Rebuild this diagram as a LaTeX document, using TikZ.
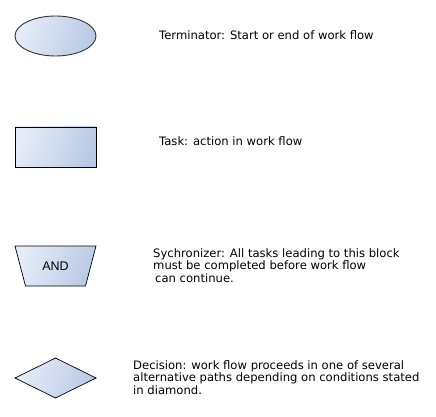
\documentclass[tikz,border=0pt]{standalone}
\usepackage{fontspec}
\setmainfont{DejaVu Sans}
\newfontfamily\andfont{Liberation Sans}
\definecolor{gl}{RGB}{230,236,247}
\definecolor{gd}{RGB}{184,202,229}
\tikzset{
  shapefill/.style={left color=gl, right color=gd, shading angle=70},
  desc/.style={anchor=base west, inner sep=0pt, align=left, font=\fontsize{11.6}{12.3}\selectfont},
}
\begin{document}
\begin{tikzpicture}[x=1pt,y=-1pt]
\useasboundingbox (0,0) rectangle (436,417);
% terminator
\draw[shapefill, draw=black!80, line width=0.9pt] (55.5,36) ellipse (40.5 and 20);
\node[inner sep=0pt] (term) at (55.5,36) {};
\node[desc] (termtxt) at (159,40) {Terminator: Start or end of work flow};
% task
\draw[shapefill, draw=black, line width=0.9pt] (15,127) rectangle (96,167);
\node[inner sep=0pt] (task) at (55.5,147) {};
\node[desc] (tasktxt) at (159,146) {Task: action in work flow};
% synchronizer
\draw[shapefill, draw=black, line width=0.7pt] (15,246) -- (96,246) -- (85.5,286) -- (25.5,286) -- cycle;
\node[inner sep=0pt, font=\andfont\fontsize{12.5}{13}\selectfont] (and) at (55.5,266) {AND};
\node[desc] (synctxt) at (153,282) {Sychronizer: All tasks leading to this block\\must be completed before work flow\\\hspace*{2pt}can continue.};
% decision
\draw[shapefill, draw=black, line width=0.7pt] (55.5,358) -- (96,378) -- (55.5,398) -- (15,378) -- cycle;
\node[inner sep=0pt] (dec) at (55.5,378) {};
\node[desc] (dectxt) at (133,394) {Decision: work flow proceeds in one of several\\alternative paths depending on conditions stated\\in diamond.};
\end{tikzpicture}
\end{document}
